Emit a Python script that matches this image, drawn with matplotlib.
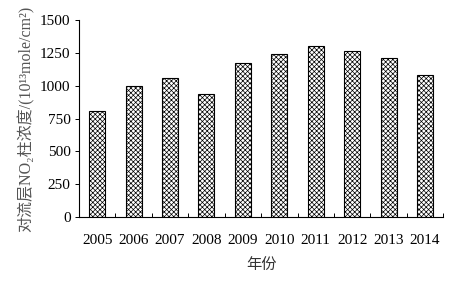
import matplotlib
matplotlib.use('Agg')
import matplotlib.pyplot as plt
import numpy as np

years = ['2005', '2006', '2007', '2008', '2009',
         '2010', '2011', '2012', '2013', '2014']
no2 = [810, 1000, 1060, 935, 1175, 1245, 1300, 1265, 1210, 1085]
y_ticks = [0, 250, 500, 750, 1000, 1250, 1500]

plt.rcParams['font.family'] = ['Liberation Serif', 'Noto Sans CJK SC']
plt.rcParams['hatch.linewidth'] = 0.5
plt.rcParams['hatch.color'] = '#333333'

fig = plt.figure(figsize=(4.7, 2.82), dpi=100)
ax = fig.add_axes([0.168, 0.2305, 0.775, 0.6985])

x = np.arange(len(years))
ax.bar(x, no2, width=0.44, color='white', edgecolor='black',
       hatch='xxxxxxx', linewidth=0.8)

ax.set_xlim(-0.5, len(years) - 0.5)
ax.set_ylim(0, 1500)
ax.set_yticks(y_ticks)
ax.set_xticks(x)
ax.set_xticklabels(years)
ax.set_xticks(np.arange(-0.5, len(years)), minor=True)
ax.tick_params(axis='x', which='major', length=0, pad=12, labelsize=11)
ax.tick_params(axis='x', which='minor', direction='in', length=3, width=0.7)
ax.tick_params(axis='y', direction='out', length=3, width=0.7, pad=3,
               labelsize=11)

for side in ['top', 'right']:
    ax.spines[side].set_visible(False)
for side in ['left', 'bottom']:
    ax.spines[side].set_linewidth(0.8)

ax.set_xlabel('年份', fontsize=11, color='#333333', labelpad=8)
ax.set_ylabel('对流层NO₂柱浓度/(10¹³mole/cm²)', fontsize=11.5,
              color='#555555', labelpad=4)

fig.savefig('out.png', dpi=100)
